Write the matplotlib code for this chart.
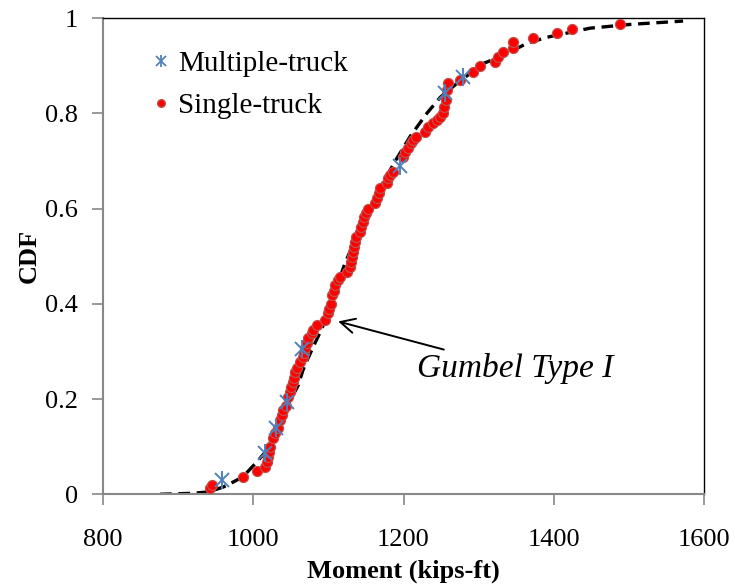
import numpy as np
import matplotlib
matplotlib.use("Agg")
import matplotlib.pyplot as plt
from matplotlib.lines import Line2D

plt.rcParams['font.family'] = ['Liberation Serif', 'DejaVu Serif']

# single-truck events (moment kips-ft, CDF)
single_m = [942, 945, 986, 1005, 1016, 1018, 1020, 1021, 1022, 1026, 1029, 1033, 1036,
            1038, 1040, 1043, 1046, 1049, 1050, 1053, 1054, 1056, 1058, 1062, 1066, 1068,
            1069, 1071, 1073, 1078, 1080, 1085, 1096, 1100, 1101, 1103, 1105, 1107, 1109,
            1113, 1116, 1125, 1129, 1130, 1131, 1133, 1134, 1136, 1137, 1142, 1144, 1146,
            1148, 1150, 1153, 1162, 1165, 1167, 1169, 1178, 1180, 1182, 1186, 1199, 1202,
            1206, 1210, 1213, 1216, 1229, 1233, 1239, 1244, 1249, 1252, 1254, 1256, 1258,
            1259, 1275, 1293, 1302, 1322, 1326, 1333, 1346, 1346, 1372, 1404, 1424, 1488]
single_f = [0.013, 0.019, 0.036, 0.049, 0.057, 0.067, 0.078, 0.088, 0.100, 0.118, 0.128,
            0.139, 0.155, 0.166, 0.176, 0.186, 0.204, 0.214, 0.225, 0.235, 0.245, 0.256,
            0.265, 0.277, 0.288, 0.297, 0.307, 0.317, 0.328, 0.338, 0.345, 0.355, 0.366,
            0.380, 0.390, 0.400, 0.418, 0.428, 0.439, 0.450, 0.456, 0.466, 0.477, 0.487,
            0.498, 0.508, 0.519, 0.529, 0.540, 0.550, 0.561, 0.571, 0.582, 0.590, 0.600,
            0.611, 0.622, 0.632, 0.643, 0.653, 0.664, 0.670, 0.676, 0.708, 0.718, 0.727,
            0.737, 0.744, 0.750, 0.760, 0.771, 0.779, 0.786, 0.792, 0.800, 0.813, 0.828,
            0.849, 0.863, 0.870, 0.886, 0.900, 0.907, 0.918, 0.929, 0.937, 0.950, 0.958,
            0.969, 0.977, 0.987]

# multiple-truck events
multi_m = [958, 1016, 1030, 1045, 1065, 1195, 1255, 1279]
multi_f = [0.029, 0.086, 0.140, 0.193, 0.305, 0.690, 0.843, 0.877]

# Gumbel Type I fit
gumbel_m = [876, 920, 940, 960, 986, 1006, 1018, 1029, 1040, 1049, 1060, 1066, 1073, 1082,
            1089, 1100, 1110, 1122, 1140, 1159, 1173, 1189, 1209, 1231, 1249, 1271, 1306,
            1328, 1364, 1391, 1448, 1502, 1572]
gumbel_f = [0.0, 0.002, 0.005, 0.015, 0.036, 0.070, 0.092, 0.130, 0.170, 0.197, 0.229,
            0.260, 0.286, 0.317, 0.340, 0.380, 0.430, 0.485, 0.550, 0.610, 0.655, 0.700,
            0.752, 0.800, 0.834, 0.863, 0.905, 0.918, 0.947, 0.960, 0.979, 0.987, 0.994]

fig = plt.figure(figsize=(7.35, 5.87), dpi=100)
ax = fig.add_axes([0.140, 0.158, 0.818, 0.811])

ax.plot(gumbel_m, gumbel_f, color='black', lw=2.4, dashes=(3.5, 2), zorder=2)
ax.plot(single_m, single_f, 'o', color='#FF0000', mec='#C0504D', mew=0.9, ms=7.2,
        zorder=3)
# excel-style star: an x with a vertical bar
ax.plot(multi_m, multi_f, 'x', color='#4F81BD', ms=10, mew=1.4, zorder=4)
ax.plot(multi_m, multi_f, '|', color='#4F81BD', ms=13, mew=1.4, zorder=4)

h_multi = (Line2D([], [], ls='', marker='x', color='#4F81BD', ms=7, mew=1.3),
           Line2D([], [], ls='', marker='|', color='#4F81BD', ms=9, mew=1.3))
h_single = Line2D([], [], ls='', marker='o', color='#FF0000', mec='#C0504D', ms=5.5)
ax.legend([h_multi, h_single], ['Multiple-truck', 'Single-truck'], loc='upper left',
          frameon=False, fontsize=21, handlelength=0.8, handletextpad=0.2,
          labelspacing=0.54, bbox_to_anchor=(0.057, 0.957), borderaxespad=0)

ax.annotate('Gumbel Type I', xy=(1113, 0.363), xytext=(1218, 0.264),
            fontsize=24, style='italic', va='center', ha='left',
            arrowprops=dict(arrowstyle='->', color='black', lw=1.4,
                            mutation_scale=26, shrinkA=2, shrinkB=0))

ax.set_xlim(800, 1600)
ax.set_ylim(0, 1)
ax.set_xticks([800, 1000, 1200, 1400, 1600])
ax.set_yticks([0, 0.2, 0.4, 0.6, 0.8, 1])
ax.set_yticklabels(['0', '0.2', '0.4', '0.6', '0.8', '1'])
ax.tick_params(direction='out', length=8, width=1.2, color='#888888', labelsize=19)
ax.tick_params(axis='x', pad=17)
ax.tick_params(axis='y', pad=10)
for s in ['left', 'bottom']:
    ax.spines[s].set_color('#888888')
    ax.spines[s].set_linewidth(1.5)
for s in ['top', 'right']:
    ax.spines[s].set_color('black')
    ax.spines[s].set_linewidth(1.0)

ax.set_xlabel('Moment (kips-ft)', fontsize=19, fontweight='bold', labelpad=6)
ax.set_ylabel('CDF', fontsize=19, fontweight='bold', labelpad=3)

fig.savefig('out.png', dpi=100)
